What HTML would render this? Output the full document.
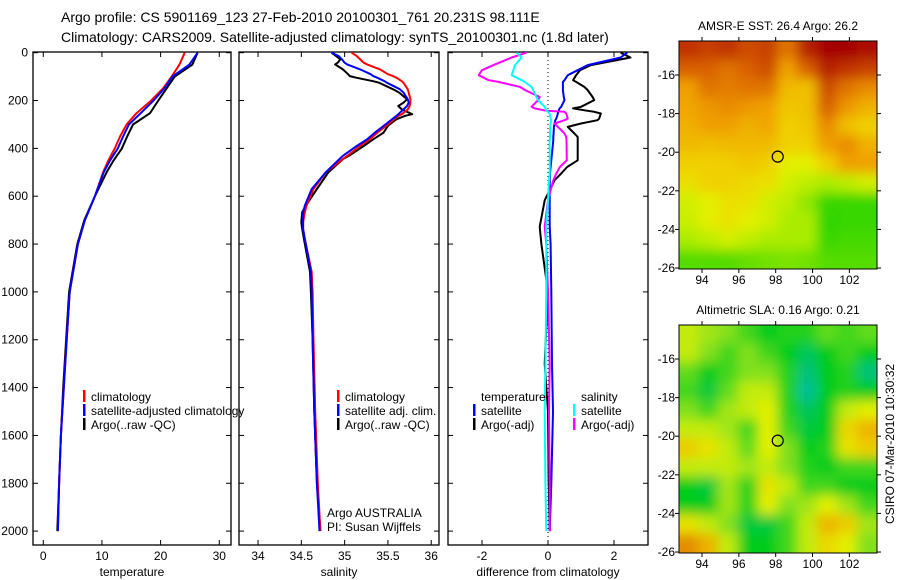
<!DOCTYPE html>
<html><head><meta charset="utf-8">
<style>
html,body{margin:0;padding:0;background:#fff;}
svg{display:block;font-family:"Liberation Sans",sans-serif;}
text{fill:#000;}
</style></head>
<body>
<svg id="chart" width="900" height="580" viewBox="0 0 900 580" xmlns="http://www.w3.org/2000/svg">
<defs>
<filter id="blur" x="-10%" y="-10%" width="120%" height="120%"><feGaussianBlur stdDeviation="6"/></filter>
<clipPath id="clipM1"><rect x="679" y="41" width="198" height="228"/></clipPath>
<clipPath id="clipM2"><rect x="679" y="325" width="198" height="228"/></clipPath>
</defs>
<text x="61" y="22" font-size="14">Argo profile: CS 5901169_123 27-Feb-2010 20100301_761 20.231S 98.111E</text>
<text x="61" y="42" font-size="14">Climatology: CARS2009. Satellite-adjusted climatology: synTS_20100301.nc (1.8d later)</text>
<g id="layer"></g>
</svg>
<script>
// ---- data ----
var tempP      = [0,50,100,150,200,253,300,350,400,450,500,600,700,800,1000,1200,1400,1600,1800,2000];
var tempClim   = [24.1,23.2,21.9,20.4,18.4,15.9,14.2,13.1,12.2,11.1,10.2,8.8,7.1,5.9,4.5,4.0,3.5,3.0,2.7,2.5];
var tempSat    = [26.3,24.9,22.0,20.6,18.8,16.6,14.6,13.6,12.7,11.4,10.3,8.8,7.1,5.9,4.5,4.0,3.5,3.0,2.7,2.5];
var tempArgo   = [26.3,25.4,22.4,21.0,19.6,18.2,15.3,14.3,13.4,12.0,10.8,8.8,7.0,5.8,4.4,3.9,3.4,3.0,2.7,2.4];

var salP       = [0,14,28,42,49,70,90,98,105,119,126,153,167,195,209,223,237,257,264,278,292,306,334,362,390,431,445,501,570,640,667,709,737,778,917,1000,1200,1500,1800,2000];
var salClim    = [35.08,35.14,35.18,35.22,35.26,35.41,35.5,35.56,35.6,35.66,35.68,35.73,35.74,35.76,35.76,35.75,35.73,35.66,35.62,35.57,35.53,35.48,35.38,35.29,35.18,35.03,34.98,34.78,34.64,34.56,34.54,34.52,34.52,34.54,34.62,34.63,34.64,34.66,34.69,34.72];
var salSat     = [34.85,34.93,34.97,35.0,35.03,35.18,35.3,35.33,35.38,35.46,35.49,35.64,35.68,35.73,35.74,35.72,35.68,35.62,35.6,35.55,35.5,35.45,35.35,35.26,35.14,34.98,34.94,34.78,34.62,34.54,34.52,34.52,34.52,34.54,34.61,34.62,34.63,34.65,34.68,34.71];
var salArgo    = [34.85,34.9,34.95,34.92,34.89,34.98,35.04,35.06,35.14,35.33,35.4,35.56,35.63,35.72,35.68,35.62,35.66,35.78,35.7,35.6,35.55,35.5,35.45,35.33,35.22,35.05,34.98,34.81,34.68,34.55,34.51,34.5,34.51,34.53,34.6,34.61,34.63,34.65,34.68,34.72];

var difP       = [0,20,52,73,94,115,122,143,156,185,198,226,233,243,247,254,275,282,296,310,338,352,366,450,478,505,533,617,728,800,1000,1300,1500,1800,2000];
var difTempArgo= [2.2,2.5,1.3,0.97,0.85,0.76,0.85,1.1,1.2,1.35,1.4,1.0,0.76,1.2,1.4,1.6,1.55,1.5,1.0,0.6,0.8,0.9,0.9,0.9,0.58,0.4,0.2,-0.1,-0.25,-0.2,0.0,-0.1,0.0,0.02,0.05];
var difTempSat = [2.4,2.2,1.2,0.9,0.6,0.5,0.45,0.45,0.45,0.48,0.5,0.4,0.35,0.32,0.3,0.3,0.25,0.22,0.2,0.18,0.17,0.16,0.16,0.1,0.08,0.06,0.05,0.05,0.05,0.08,0.1,0.12,0.15,0.1,0.05];
var difSalArgo = [-0.65,-1.1,-1.65,-2.0,-2.1,-1.8,-1.5,-0.85,-0.7,-0.25,-0.3,-0.5,-0.4,-0.05,0.5,0.55,0.6,0.5,0.2,0.3,0.5,0.55,0.56,0.57,0.36,0.25,0.16,0.0,-0.1,-0.05,0.0,0.05,0.03,0.05,0.05];
var difSalSat  = [-0.95,-0.8,-1.0,-1.05,-1.1,-0.8,-0.7,-0.5,-0.45,-0.35,-0.3,-0.1,-0.08,-0.05,0.0,0.05,0.08,0.1,0.08,0.07,0.06,0.06,0.05,0.05,0.05,0.05,0.03,0.0,-0.05,-0.05,-0.05,-0.08,-0.1,-0.08,-0.05];

var yTicks     = [0,200,400,600,800,1000,1200,1400,1600,1800,2000];
var tempTicks  = [0,10,20,30];
var salTicks   = [34,34.5,35,35.5,36];
var salTickLabels = ["34","34.5","35","35.5","36"];
var difTicks   = [-2,0,2];
var mapLonTicks= [94,96,98,100,102];
var mapLatTicks= [-16,-18,-20,-22,-24,-26];

var sstGrid = [
[.92,.9,.92,.88,.9,.8,.95,1,1,.98],
[.85,.85,.8,.85,.88,.7,.85,.95,.92,.9],
[.7,.8,.78,.8,.8,.62,.6,.88,.8,.75],
[.68,.72,.75,.72,.7,.58,.6,.85,.72,.65],
[.65,.7,.7,.65,.68,.55,.58,.75,.6,.55],
[.62,.6,.62,.62,.62,.55,.55,.7,.75,.65],
[.55,.55,.55,.58,.55,.45,.45,.55,.7,.7],
[.5,.55,.55,.52,.5,.4,.35,.3,.35,.4],
[.4,.45,.5,.5,.4,.35,.25,.1,.1,.1],
[.38,.45,.5,.45,.4,.3,.3,.08,.1,.1],
[.3,.35,.4,.35,.3,.3,.3,.1,.12,.12],
[.15,.15,.15,.18,.2,.22,.2,.15,.15,.15]];
var slaGrid = [
[.5,.45,.4,.3,.2,.25,.25,.35,.3,.35],
[.5,.4,.3,.4,.3,.2,.1,.2,.3,.2],
[.35,.2,.3,.4,.4,.25,.05,.2,.25,.05],
[.3,.15,.35,.5,.5,.25,0,.2,.25,.2],
[.4,.3,.45,.5,.55,.25,.1,.2,.5,.55],
[.5,.5,.45,.3,.55,.3,.15,.2,.65,.8],
[.7,.6,.5,.35,.55,.4,.2,.25,.6,.7],
[.5,.5,.5,.45,.5,.4,.25,.2,.3,.3],
[.2,.15,.45,.25,.6,.5,.3,.3,.2,.2],
[.2,.2,.45,.25,.55,.4,.45,.55,.45,.3],
[.6,.5,.4,.15,.15,.3,.5,.8,.7,.45],
[.95,.8,.5,.2,.2,.3,.5,.65,.55,.4]];
var argoLon = 98.111, argoLat = -20.231;

// ---- helpers ----
var NS="http://www.w3.org/2000/svg";
var layer=document.getElementById('layer');
function mk(tag,attrs,parent){var e=document.createElementNS(NS,tag);for(var k in attrs)e.setAttribute(k,attrs[k]);(parent||layer).appendChild(e);return e;}
function txt(x,y,s,anchor,size,parent){var t=mk('text',{x:x,y:y,'font-size':size||12,'text-anchor':anchor||'start'},parent);t.textContent=s;return t;}

var PT=52.7, PB=545, PS=0.2392; // pressure axis
function py(p){return PT+p*PS;}

function panel(name,x0,x1,xmin,xmax,ticks,labels,title,showY){
  var g=mk('g',{});
  
  
  var sx=function(v){return x0+(v-xmin)/(xmax-xmin)*(x1-x0);};
  var box=mk('rect',{x:x0,y:52,width:x1-x0,height:PB-52,fill:'none',stroke:'#000','stroke-width':1.3},g);
  
  
  yTicks.forEach(function(p){
    mk('line',{x1:x0,x2:x0+5,y1:py(p),y2:py(p),stroke:'#000'},g);
    mk('line',{x1:x1,x2:x1-5,y1:py(p),y2:py(p),stroke:'#000'},g);
    if(showY){var t=txt(28,py(p)+4,String(p),'end',12,g);
      
      }
  });
  ticks.forEach(function(v,i){
    var X=sx(v);
    mk('line',{x1:X,x2:X,y1:PB,y2:PB-5,stroke:'#000'},g);
    mk('line',{x1:X,x2:X,y1:52,y2:57,stroke:'#000'},g);
    var t=txt(X,560,labels[i],'middle',12,g);
    
    
  });
  var at=txt((x0+x1)/2,576,title,'middle',12,g);
  
  
  return {g:g,sx:sx};
}
function series(P,g,sx,pArr,vArr,color,name,w){
  var d='';
  for(var i=0;i<pArr.length;i++){d+=(i?'L':'M')+sx(vArr[i]).toFixed(1)+' '+py(pArr[i]).toFixed(1);}
  var e=mk('path',{d:d,fill:'none',stroke:color,'stroke-width':w||2,'stroke-linejoin':'round'},g);
  
  
}
function legendEntry(g,x,y,color,label,name){
  var gg=mk('g',{},g);
  
  
  if(color)mk('rect',{x:x,y:y-11,width:2.5,height:12,fill:color},gg);
  txt(x+8,y,label,'start',12,gg);
}

// temperature panel
var T=panel('temperature-panel',33,231,-1.75,32,tempTicks,tempTicks.map(String),'temperature',true);
series(T,T.g,T.sx,tempP,tempArgo,'#000','temp-argo-line');
series(T,T.g,T.sx,tempP,tempClim,'#f00','temp-climatology-line');
series(T,T.g,T.sx,tempP,tempSat,'#00f','temp-satellite-line');
legendEntry(T.g,83,401,'#f00','climatology','legend-climatology');
legendEntry(T.g,83,415,'#00f','satellite-adjusted climatology','legend-satellite-adjusted');
legendEntry(T.g,83,429,'#000','Argo(..raw -QC)','legend-argo');

// salinity panel
var S=panel('salinity-panel',239,439,33.78,36.09,salTicks,salTickLabels,'salinity',false);
series(S,S.g,S.sx,salP,salArgo,'#000','sal-argo-line');
series(S,S.g,S.sx,salP,salClim,'#f00','sal-climatology-line');
series(S,S.g,S.sx,salP,salSat,'#00f','sal-satellite-line');
legendEntry(S.g,337,401,'#f00','climatology','legend-climatology');
legendEntry(S.g,337,415,'#00f','satellite adj. clim.','legend-satellite-adj');
legendEntry(S.g,337,429,'#000','Argo(..raw -QC)','legend-argo');
var a1=txt(327,517,'Argo AUSTRALIA','start',12,S.g);


var a2=txt(327,531,'PI: Susan Wijffels','start',12,S.g);



// difference panel
var D=panel('difference-panel',448,648,-3.03,3.03,difTicks,difTicks.map(String),'difference from climatology',false);
var zl=mk('line',{x1:D.sx(0),x2:D.sx(0),y1:52,y2:PB,stroke:'#000','stroke-dasharray':'1,3'},D.g);


series(D,D.g,D.sx,difP,difTempArgo,'#000','diff-temp-argo-line');
series(D,D.g,D.sx,difP,difTempSat,'#00f','diff-temp-satellite-line');
series(D,D.g,D.sx,difP,difSalArgo,'#f0f','diff-sal-argo-line');
series(D,D.g,D.sx,difP,difSalSat,'#0ff','diff-sal-satellite-line');
legendEntry(D.g,473,401,null,'temperature','legend-temperature-header');
legendEntry(D.g,473,415,'#00f','satellite','legend-temp-satellite');
legendEntry(D.g,473,429,'#000','Argo(-adj)','legend-temp-argo');
legendEntry(D.g,573,401,null,'salinity','legend-salinity-header');
legendEntry(D.g,573,415,'#0ff','satellite','legend-sal-satellite');
legendEntry(D.g,573,429,'#f0f','Argo(-adj)','legend-sal-argo');

// maps
function lerpColor(stops,v){
  for(var i=1;i<stops.length;i++){if(v<=stops[i][0]||i==stops.length-1){
    var a=stops[i-1],b=stops[i],f=Math.max(0,Math.min(1,(v-a[0])/(b[0]-a[0])));
    var c=[0,1,2].map(function(k){return Math.round(a[1][k]+(b[1][k]-a[1][k])*f);});
    return 'rgb('+c.join(',')+')';}}
}
var sstStops=[[0,[0,204,0]],[0.3,[170,236,0]],[0.45,[228,240,0]],[0.55,[240,208,0]],[0.7,[240,160,0]],[0.85,[216,96,0]],[1,[165,0,0]]];
var slaStops=[[0,[0,192,150]],[0.2,[0,204,30]],[0.4,[130,224,30]],[0.55,[226,240,0]],[0.75,[240,192,0]],[1,[224,128,0]]];
var LON0=92.75,LON1=103.5,LATTOP=-14.24,LATBOT=-26.05;
function map(name,y0,grid,stops,title,clip){
  var g=mk('g',{});
  
  
  var x0=679,x1=877,y1=y0+228;
  var mx=function(lon){return x0+(lon-LON0)/(LON1-LON0)*(x1-x0);};
  var my=function(lat){return y0+(LATTOP-lat)/(LATTOP-LATBOT)*(y1-y0);};
  var cg=mk('g',{'clip-path':'url(#'+clip+')'},g);
  var ig=mk('g',{filter:'url(#blur)'},cg);
  var rows=grid.length,cols=grid[0].length,cw=(x1-x0)/cols,ch=(y1-y0)/rows;
  for(var r=0;r<rows;r++)for(var c=0;c<cols;c++){
    var ex0=(c==0?-12:0),ex1=(c==cols-1?12:0),ey0=(r==0?-12:0),ey1=(r==rows-1?12:0);
    var cell=mk('rect',{x:(x0+c*cw-0.5+ex0).toFixed(1),y:(y0+r*ch-0.5+ey0).toFixed(1),width:(cw+1-ex0+ex1).toFixed(1),height:(ch+1-ey0+ey1).toFixed(1),fill:lerpColor(stops,grid[r][c])},ig);
    
    
  }
  mk('rect',{x:x0,y:y0,width:x1-x0,height:y1-y0,fill:'none',stroke:'#000','stroke-width':1},g);
  mapLatTicks.forEach(function(l){var Y=my(l);
    mk('line',{x1:x0-4,x2:x0,y1:Y,y2:Y,stroke:'#000'},g);
    mk('line',{x1:x1,x2:x1+4,y1:Y,y2:Y,stroke:'#000'},g);
    var t=txt(675,Y+4,String(l),'end',12,g);
    
    });
  mapLonTicks.forEach(function(l){var X=mx(l);
    mk('line',{x1:X,x2:X,y1:y1,y2:y1+4,stroke:'#000'},g);
    mk('line',{x1:X,x2:X,y1:y0-4,y2:y0,stroke:'#000'},g);
    var t=txt(X,y1+15,String(l),'middle',12,g);
    
    });
  var tt=txt(778,y0-11,title,'middle',12,g);
  
  
  var ci=mk('circle',{cx:mx(argoLon),cy:my(argoLat),r:5.5,fill:'none',stroke:'#000','stroke-width':1.2},g);
  
  
}
map('sst-map',41,sstGrid,sstStops,'AMSR-E SST: 26.4 Argo: 26.2','clipM1');
map('sla-map',325,slaGrid,slaStops,'Altimetric SLA: 0.16 Argo: 0.21','clipM2');
var cs=txt(0,0,'CSIRO 07-Mar-2010 10:30:32','middle',12);
cs.setAttribute('transform','translate(894,444) rotate(-90)');


</script>
</body></html>
